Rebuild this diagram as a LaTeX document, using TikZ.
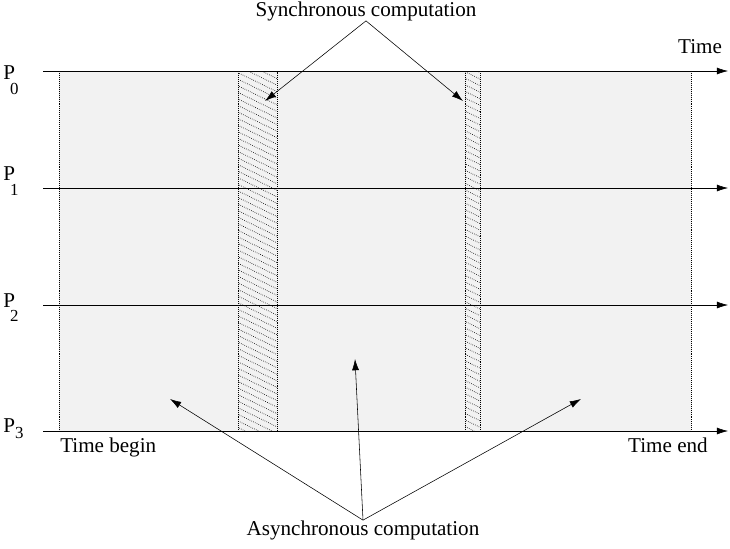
\documentclass[tikz,border=0pt]{standalone}
\usepackage{fontspec}
\setmainfont{Liberation Serif}
\usetikzlibrary{arrows.meta, patterns.meta}
\definecolor{fundo}{RGB}{242, 242, 242}

\begin{document}
\begin{tikzpicture}[
    x=0.025cm, y=-0.025cm,
    rotulo/.style={
        inner sep=0pt,
        font=\fontsize{15}{17}\selectfont
    },
    eixo/.style={
        -{Latex[length=8pt, width=5pt]},
        thin
    },
    seta/.style={
        -{Latex[length=8pt, width=5pt]},
        thin
    },
    faixa/.style={
        draw=black,
        densely dotted,
        pattern={Lines[angle=-26, distance=4.2pt, line width=0.5pt]}
    }
]
\useasboundingbox (0,0) rectangle (730,548);

% area cinza e limites
\fill[fundo] (59,71) rectangle (691,431);
\draw[densely dotted] (59,71) -- (59,431);
\draw[densely dotted] (691,71) -- (691,431);

% faixas sincronas
\draw[faixa] (238,71) rectangle (277,431);
\draw[faixa] (465,71) rectangle (480,431);

% processos
\foreach \i/\y/\pb/\db/\kx in {0/71/8/11.3/-3.5, 1/188/-8/11.3/-3.5, 2/305/2/10.6/-3.5, 3/431/1/4.3/0} {
  \node[rotulo, anchor=base west] (p\i) at (3,\y+\pb)
    {P\kern\kx pt\raisebox{-\db pt}{\fontsize{12}{13}\selectfont\i}};
  \coordinate (ini\i) at (43,\y);
  \coordinate (fim\i) at (728,\y);
  \draw[eixo] (ini\i) -- (fim\i);
}

\node[rotulo] (tempo) at (700,47) {Time};
\node[rotulo, anchor=base west] (inicio) at (60,452) {Time begin};
\node[rotulo, anchor=base east] (final) at (708,452) {Time end};

% sincrono
\node[rotulo] (sinc) at (366,11) {Synchronous computation};
\coordinate (s1) at (265,101);
\coordinate (s2) at (463,101);
\draw[seta] (sinc.south) -- (s1);
\draw[seta] (sinc.south) -- (s2);

% assincrono
\node[rotulo] (assinc) at (363,530) {Asynchronous computation};
\coordinate (a1) at (170,399);
\coordinate (a2) at (355,359);
\coordinate (a3) at (581,399);
\draw[seta] (assinc.north) -- (a1);
\draw[seta] (assinc.north) -- (a2);
\draw[seta] (assinc.north) -- (a3);

\end{tikzpicture}
\end{document}
